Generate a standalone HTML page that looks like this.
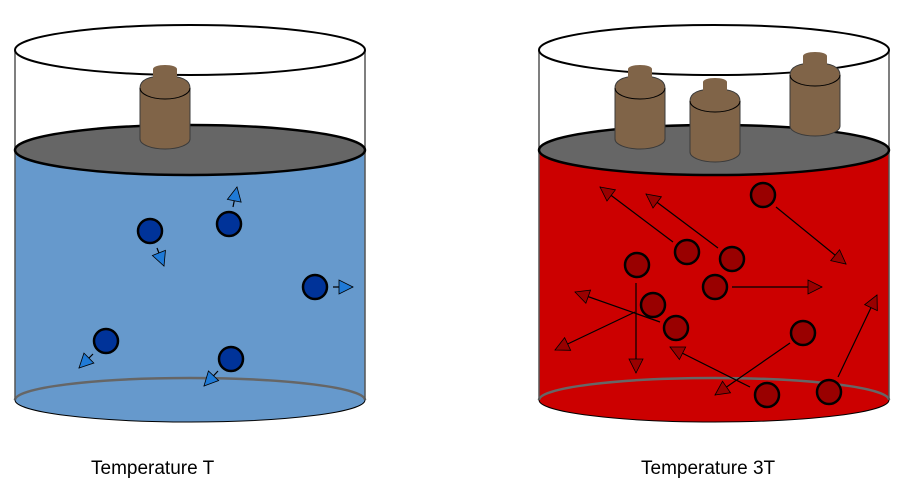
<!DOCTYPE html>
<html><head><meta charset="utf-8"><style>html,body{margin:0;padding:0;background:#fff}svg{display:block}</style></head>
<body>
<svg width="898" height="483" viewBox="0 0 898 483" xmlns="http://www.w3.org/2000/svg">
<defs>
<marker id="hb" markerUnits="userSpaceOnUse" markerWidth="20" markerHeight="20" refX="15" refY="8" orient="auto" viewBox="0 0 20 16">
<path d="M15,8 L1,1 L1,15 Z" fill="#1f7ad6" stroke="#000" stroke-width="0.8"/></marker>
<marker id="hr" markerUnits="userSpaceOnUse" markerWidth="20" markerHeight="20" refX="15" refY="8" orient="auto" viewBox="0 0 20 16">
<path d="M15,8 L1,1 L1,15 Z" fill="#990000" stroke="#000" stroke-width="0.8"/></marker>
<g id="w">
<path d="M-25,-51 Q-25,-63 0,-63 Q25,-63 25,-51 L25,0 A25,10 0 0 1 -25,0 Z" fill="#806448" stroke="#3a3a3a" stroke-width="1"/>
<path d="M-25,-51 A25,11 0 0 0 25,-51" fill="none" stroke="#000" stroke-width="1"/>
<path d="M-12,-61 L-12,-70 A12,4 0 0 1 12,-70 L12,-61 A12,4 0 0 1 -12,-61 Z" fill="#806448"/>
</g>
</defs>

<!-- LEFT -->
<rect x="15" y="150" width="350" height="250" fill="#6699cc"/>
<ellipse cx="190" cy="400" rx="175" ry="22" fill="#6699cc" stroke="#000" stroke-width="1"/>
<path d="M15,400 A175,22 0 0 1 365,400" fill="none" stroke="#666" stroke-width="2.5"/>
<line x1="15" y1="50" x2="15" y2="400" stroke="#555" stroke-width="1.5"/>
<line x1="365" y1="50" x2="365" y2="400" stroke="#555" stroke-width="1.5"/>
<ellipse cx="190" cy="150" rx="175" ry="25" fill="#666" stroke="#000" stroke-width="2.5"/>
<ellipse cx="190" cy="50" rx="175" ry="25" fill="none" stroke="#000" stroke-width="2"/>
<use href="#w" x="165" y="139"/>
<g stroke="#000" stroke-width="1.2">
<line x1="157" y1="248" x2="164" y2="266" marker-end="url(#hb)"/>
<line x1="233" y1="207" x2="237" y2="187" marker-end="url(#hb)"/>
<line x1="333" y1="287" x2="353" y2="287" marker-end="url(#hb)"/>
<line x1="93" y1="354" x2="79" y2="368" marker-end="url(#hb)"/>
<line x1="218" y1="371" x2="204" y2="386" marker-end="url(#hb)"/>
</g>
<g fill="#003399" stroke="#000" stroke-width="2.5">
<circle cx="150" cy="231" r="12"/><circle cx="229" cy="224" r="12"/><circle cx="315" cy="287" r="12"/>
<circle cx="106" cy="341" r="12"/><circle cx="231" cy="359" r="12"/>
</g>

<!-- RIGHT -->
<rect x="539" y="150" width="350" height="250" fill="#cc0000"/>
<ellipse cx="714" cy="400" rx="175" ry="22" fill="#cc0000" stroke="#000" stroke-width="1"/>
<path d="M539,400 A175,22 0 0 1 889,400" fill="none" stroke="#666" stroke-width="2.5"/>
<line x1="539" y1="50" x2="539" y2="400" stroke="#555" stroke-width="1.5"/>
<line x1="889" y1="50" x2="889" y2="400" stroke="#555" stroke-width="1.5"/>
<ellipse cx="714" cy="150" rx="175" ry="25" fill="#666" stroke="#000" stroke-width="2.5"/>
<ellipse cx="714" cy="50" rx="175" ry="25" fill="none" stroke="#000" stroke-width="2"/>
<use href="#w" x="640" y="139"/>
<use href="#w" x="715" y="152"/>
<use href="#w" x="815" y="126"/>
<g stroke="#000" stroke-width="1.2">
<line x1="673" y1="242" x2="600" y2="187" marker-end="url(#hr)"/>
<line x1="718" y1="248" x2="646" y2="194" marker-end="url(#hr)"/>
<line x1="776" y1="207" x2="846" y2="264" marker-end="url(#hr)"/>
<line x1="732" y1="287" x2="822" y2="287" marker-end="url(#hr)"/>
<line x1="636" y1="283" x2="636" y2="373" marker-end="url(#hr)"/>
<line x1="660" y1="322" x2="575" y2="292" marker-end="url(#hr)"/>
<line x1="635" y1="312" x2="555" y2="350" marker-end="url(#hr)"/>
<line x1="790" y1="343" x2="715" y2="395" marker-end="url(#hr)"/>
<line x1="750" y1="387" x2="670" y2="347" marker-end="url(#hr)"/>
<line x1="838" y1="377" x2="877" y2="295" marker-end="url(#hr)"/>
</g>
<g fill="#990000" stroke="#000" stroke-width="2.5">
<circle cx="763" cy="195" r="12"/><circle cx="687" cy="252" r="12"/><circle cx="732" cy="259" r="12"/>
<circle cx="637" cy="265" r="12"/><circle cx="715" cy="287" r="12"/><circle cx="653" cy="305" r="12"/>
<circle cx="676" cy="328" r="12"/><circle cx="803" cy="333" r="12"/><circle cx="767" cy="395" r="12"/>
<circle cx="829" cy="392" r="12"/>
</g>

<g font-family="Liberation Sans, sans-serif" font-size="19" fill="#000">
<text x="91" y="474">Temperature T</text>
<text x="641" y="474">Temperature 3T</text>
</g>
</svg>
</body></html>
